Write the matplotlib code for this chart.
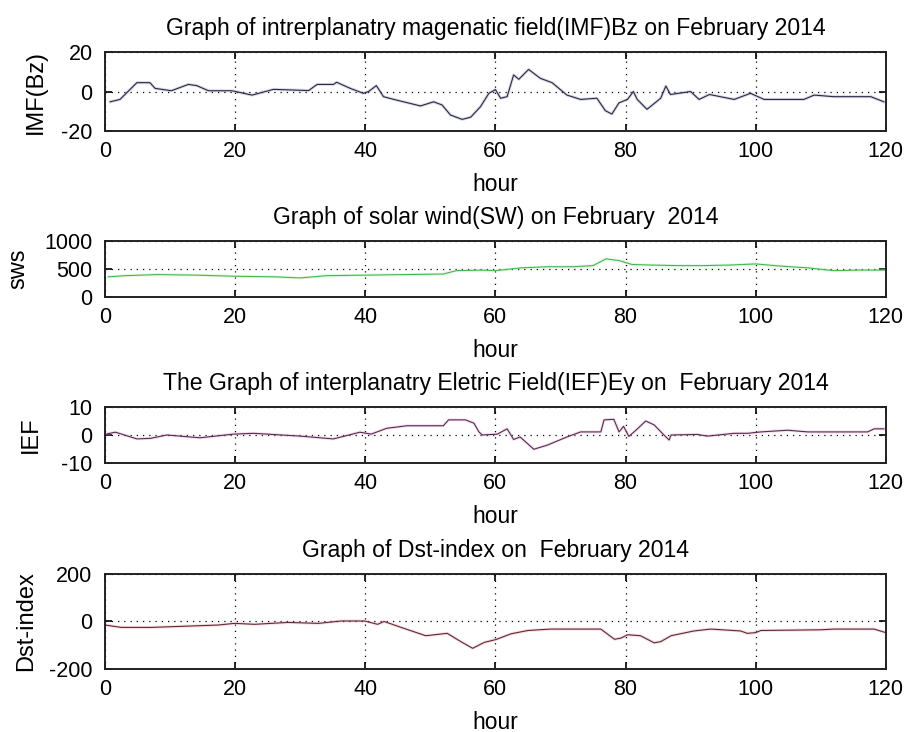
import matplotlib
matplotlib.use('Agg')
import matplotlib.pyplot as plt

plt.rcParams['font.family'] = ['Liberation Sans', 'DejaVu Sans']
plt.rcParams['axes.unicode_minus'] = False

## IMF Bz (nT), read at breakpoints of the hourly trace
bz_hour = [0.8, 2.3, 4.9, 6.9, 7.7, 10.2, 12.8, 14.1, 15.9, 19.5, 22.6, 25.9, 31.3, 32.6,
           35.1, 35.6, 37.7, 39.7, 40.5, 41.7, 42.8, 44.4, 48.5, 50.5, 51.8, 53.1, 54.9,
           56.2, 57.7, 59.0, 60.0, 60.8, 61.8, 62.8, 63.6, 65.1, 66.9, 68.7, 71.0, 73.1,
           75.6, 76.9, 77.9, 79.0, 80.3, 81.2, 81.8, 83.3, 85.4, 86.2, 86.9, 90.0, 91.3,
           92.9, 96.7, 99.2, 101.3, 107.4, 109.0, 112.0, 117.7, 119.7]
bz_val = [-5.2, -4.0, 4.5, 4.5, 1.6, 0.4, 3.6, 3.0, 0.4, 0.4, -1.8, 1.1, 0.5, 3.6,
          3.6, 4.7, 1.6, -0.9, 0.0, 3.0, -2.6, -4.0, -7.3, -5.2, -6.8, -11.9, -14.1,
          -13.0, -7.7, -0.9, 1.0, -3.4, -2.6, 8.4, 6.2, 11.2, 6.7, 4.5, -1.8, -4.0,
          -3.4, -9.7, -11.4, -5.7, -4.0, 0.0, -4.0, -9.0, -3.4, 2.8, -1.5, 0.0, -4.0,
          -1.5, -4.0, -0.9, -4.0, -4.0, -1.8, -2.6, -2.6, -5.2]

## solar wind speed (km/s)
sw_hour = [0.5, 3, 8, 14, 20, 26, 30, 34, 40, 46, 52, 54, 58, 60, 64, 68, 72, 75, 77,
           79, 81, 84, 88, 92, 96, 100, 104, 108, 112, 116, 120]
sw_val = [360, 380, 400, 390, 370, 360, 340, 380, 390, 400, 410, 470, 480, 470, 520,
          540, 540, 560, 680, 650, 580, 570, 560, 560, 570, 590, 550, 520, 470, 480, 480]

## interplanetary electric field Ey (mV/m)
ey_hour = [0.3, 1.6, 4.9, 7.0, 9.5, 14.6, 19.7, 22.8, 30.0, 35.1, 39.2, 40.9, 43.3, 46.4,
           52.0, 52.8, 55.4, 56.7, 57.5, 58.0, 60.3, 61.8, 62.8, 63.8, 65.9, 68.0, 71.0,
           73.1, 76.2, 76.7, 78.2, 79.0, 79.7, 80.5, 81.5, 83.1, 84.4, 85.9, 86.7, 87.0,
           91.0, 92.6, 96.7, 98.8, 100.8, 104.9, 108.0, 117.2, 118.2, 119.7]
ey_val = [0.4, 1.0, -1.4, -1.2, 0.0, -1.0, 0.3, 0.6, -0.4, -1.4, 1.0, 0.3, 2.4, 3.3,
          3.3, 5.4, 5.4, 4.2, 1.0, 0.0, 0.3, 2.2, -1.6, -0.7, -5.1, -3.6, -0.7,
          1.1, 1.1, 5.4, 5.6, 1.1, 3.1, -0.5, 1.5, 5.0, 3.6, 0.0, -1.8, 0.0,
          0.2, -0.4, 0.6, 0.6, 1.1, 1.7, 1.1, 1.1, 2.2, 2.2]

## Dst index (nT)
dst_hour = [0.0, 2.5, 7.1, 12.3, 17.4, 19.9, 23.0, 28.1, 32.8, 36.3, 39.9, 41.9, 42.9,
            45.5, 49.3, 52.6, 54.7, 56.5, 58.3, 60.1, 62.4, 65.0, 68.5, 76.2, 78.3,
            79.3, 80.3, 82.3, 84.4, 85.4, 87.0, 90.5, 93.1, 97.7, 98.7, 100.0, 100.8,
            110.0, 112.1, 118.2, 120.0]
dst_val = [-15, -25, -25, -20, -15, -8, -12, -4, -8, 2, 2, -12, 0,
           -25, -60, -50, -85, -113, -88, -76, -52, -38, -32, -32, -75,
           -70, -56, -60, -90, -85, -60, -40, -32, -40, -50, -47, -38,
           -35, -32, -32, -47]

panels = [
    dict(x=bz_hour, y=bz_val, ylim=(-20, 20), yticks=[-20, 0, 20], ylabel='IMF(Bz)',
         title='Graph of intrerplanatry magenatic field(IMF)Bz on February 2014',
         color='#2a2a40', halo='#8080b8', rect=[0.1154, 0.8210, 0.858, 0.1079], labx=-0.074),
    dict(x=sw_hour, y=sw_val, ylim=(0, 1000), yticks=[0, 500, 1000], ylabel='sws',
         title='Graph of solar wind(SW) on February  2014',
         color='#44b84e', halo='#a8e8ac', rect=[0.1154, 0.5943, 0.858, 0.0765], labx=-0.097),
    dict(x=ey_hour, y=ey_val, ylim=(-10, 10), yticks=[-10, 0, 10], ylabel='IEF',
         title='The Graph of interplanatry Eletric Field(IEF)Ey on  February 2014',
         color='#503048', halo='#e890d8', rect=[0.1154, 0.3675, 0.858, 0.0765], labx=-0.081),
    dict(x=dst_hour, y=dst_val, ylim=(-200, 200), yticks=[-200, 0, 200], ylabel='Dst-index',
         title='Graph of Dst-index on  February 2014',
         color='#602a34', halo='#e890a0', rect=[0.1154, 0.0861, 0.858, 0.1298], labx=-0.087),
]

fig = plt.figure(figsize=(9.1, 7.32), dpi=100)

for p in panels:
    ax = fig.add_axes(p['rect'])
    ax.plot(p['x'], p['y'], color=p['halo'], lw=2.2, alpha=0.3, solid_joinstyle='round')
    ax.plot(p['x'], p['y'], color=p['color'], lw=0.8)
    ax.set_xlim(0, 120)
    ax.set_ylim(*p['ylim'])
    ax.set_xticks(range(0, 121, 20))
    ax.set_yticks(p['yticks'])
    ax.grid(True, linestyle=(0, (1, 4)), color='k', lw=0.9)
    ax.tick_params(direction='in', top=True, right=True, length=5, width=1.2,
                   labelsize=15.5)
    ax.tick_params(axis='x', pad=7)
    ax.tick_params(axis='y', pad=9)
    for s in ax.spines.values():
        s.set_linewidth(1.4)
        s.set_color('#222222')
    ax.set_xlabel('hour', fontsize=16.5, labelpad=8)
    ax.set_ylabel(p['ylabel'], fontsize=17)
    ax.yaxis.set_label_coords(p['labx'], 0.5)
    ax.set_title(p['title'], fontsize=16.6, pad=12)

fig.savefig('out.png', dpi=100)
